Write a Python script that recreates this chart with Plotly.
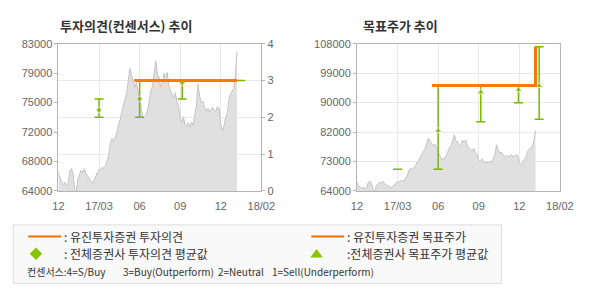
import plotly.graph_objects as go

# ---------------- data ----------------
x_ticks = [0, 1, 2, 3, 4, 5]
x_labels = ["12", "17/03", "06", "09", "12", "18/02"]

# daily-ish close price (sampled every 0.04 axis unit from 0 to 4.40)
price = [
    66500, 65600, 65200, 64800, 65100,
    64700, 65000, 66600, 66900, 66300,
    64200, 64000, 65600, 66200, 66700,
    66400, 66900, 66200, 65900, 65600,
    65200, 65000, 65400, 66000, 66400,
    66800, 66700, 67100, 66900, 67200,
    68000, 68700, 70200, 70800, 70400,
    71000, 71500, 72600, 73200, 74200,
    75200, 75900, 76600, 78000, 79800,
    79000, 78200, 77400, 78000, 76900,
    75800, 74200, 73500, 73600, 73800,
    74500, 76000, 77000, 77600, 79200,
    80800, 79000, 78700, 77400, 77800,
    79200, 78600, 79300, 77600, 76900,
    76400, 76000, 76700, 75500, 75000,
    73400, 72800, 73600, 72500, 72400,
    72800, 72200, 72900, 72500, 73800,
    75000, 77800, 76200, 75400, 75600,
    74800, 74300, 74700, 74200, 74500,
    74800, 74400, 74300, 74900, 74600,
    72600, 71800, 72400, 73500, 74000,
    75800, 76500, 76800, 77200, 79000,
    82000,
]
price_x = [round(i * 0.04, 2) for i in range(len(price))]

# Eugene investment opinion (consensus scale 1-4)
opinion_x = [1.87, 4.40]
opinion_y = [3, 3]

# all-broker consensus average / max / min
cons_x = [1.0, 2.0, 3.05, 4.49]
cons_avg = [2.2, 2.5, 2.95, 3.0]
cons_max = [2.5, 3.0, 3.0, 3.0]
cons_min = [2.0, 2.0, 2.5, 3.0]
cons_marker = [5, 5, 5, 0]

# Eugene target price
target_x = [1.85, 4.40, 4.40]
target_y = [95500, 95500, 107000]

# all-broker target price average / max / min
tp_x = [1.0, 2.0, 3.05, 3.98, 4.49]
tp_avg = [70500, 82000, 93500, 94200, 95400]
tp_max = [70500, 95500, 95500, 95500, 107100]
tp_min = [70500, 70500, 84700, 90400, 85400]
tp_marker = [0, 7, 7, 7, 7]

left_ticks = [64000, 67800, 71600, 75400, 79200, 83000]
left_labels = ["64000", "68000", "72000", "75000", "79000", "83000"]
right_ticks = [64000, 72800, 81600, 90400, 99200, 108000]
right_labels = ["64000", "73000", "82000", "90000", "99000", "108000"]

ORANGE = "#ff7800"
GREEN = "#7ab800"
GRID = "#e8e8e8"
AXIS = "#b4b4b4"
TXT = "#666666"
W, H = 590, 300

fig = go.Figure()

# ----- left chart -----
fig.add_trace(go.Scatter(x=price_x, y=price, mode="lines", fill="tozeroy",
                         fillcolor="#e0e0e0", line=dict(color="#c4c4c4", width=1),
                         xaxis="x", yaxis="y", hoverinfo="skip"))
fig.add_trace(go.Scatter(
    x=cons_x, y=cons_avg, mode="markers", xaxis="x", yaxis="y2",
    marker=dict(symbol="diamond", size=cons_marker, color=GREEN),
    error_y=dict(type="data", symmetric=False,
                 array=[a - b for a, b in zip(cons_max, cons_avg)],
                 arrayminus=[b - c for b, c in zip(cons_avg, cons_min)],
                 color=GREEN, thickness=1.5, width=4.5)))
fig.add_trace(go.Scatter(x=opinion_x, y=opinion_y, mode="lines", xaxis="x", yaxis="y2",
                         line=dict(color=ORANGE, width=3)))

# ----- right chart -----
fig.add_trace(go.Scatter(x=price_x, y=price, mode="lines", fill="tozeroy",
                         fillcolor="#e0e0e0", line=dict(color="#c4c4c4", width=1),
                         xaxis="x2", yaxis="y3", hoverinfo="skip"))
fig.add_trace(go.Scatter(
    x=tp_x, y=tp_avg, mode="markers", xaxis="x2", yaxis="y3",
    marker=dict(symbol="triangle-up", size=tp_marker, color=GREEN),
    error_y=dict(type="data", symmetric=False,
                 array=[a - b for a, b in zip(tp_max, tp_avg)],
                 arrayminus=[b - c for b, c in zip(tp_avg, tp_min)],
                 color=GREEN, thickness=1.5, width=4.5)))
fig.add_trace(go.Scatter(x=target_x, y=target_y, mode="lines", xaxis="x2", yaxis="y3",
                         line=dict(color=ORANGE, width=3)))

tickfont = dict(family="Liberation Sans, Arial, sans-serif", size=11, color=TXT)
L0, L1 = 54.3 / W, 264.3 / W
R0, R1 = 363.3 / W, 573.3 / W
Y0, Y1 = 1 - 192.7 / H, 1 - 39.3 / H

xcommon = dict(range=[0, 5], tickvals=x_ticks, ticktext=x_labels, showgrid=True,
               gridcolor=GRID, gridwidth=1, showline=True, linecolor=AXIS, linewidth=1,
               mirror=True, ticks="", tickfont=tickfont, zeroline=False, fixedrange=True,
               ticklabelstandoff=5)

fig.update_layout(
    width=W, height=H, margin=dict(l=0, r=0, t=0, b=0),
    paper_bgcolor="white", plot_bgcolor="white", showlegend=False,
    xaxis=dict(domain=[L0, L1], anchor="y", **xcommon),
    yaxis=dict(domain=[Y0, Y1], range=[64000, 83000], tickvals=left_ticks,
               ticktext=left_labels, showgrid=False, showline=True, linecolor=AXIS,
               linewidth=1, mirror=True, ticks="outside", ticklen=3, tickcolor=AXIS,
               tickfont=tickfont, zeroline=False, anchor="x"),
    yaxis2=dict(domain=[Y0, Y1], range=[0, 4], dtick=1, overlaying="y", side="right",
                showgrid=True, gridcolor=GRID, showline=False, ticks="outside",
                ticklen=3, tickcolor=AXIS, tickfont=tickfont, zeroline=False, anchor="x"),
    xaxis2=dict(domain=[R0, R1], anchor="y3", **xcommon),
    yaxis3=dict(domain=[Y0, Y1], range=[64000, 108000], tickvals=right_ticks,
                ticktext=right_labels, showgrid=True, gridcolor=GRID, showline=True,
                linecolor=AXIS, linewidth=1, mirror=True, ticks="outside", ticklen=3,
                tickcolor=AXIS, tickfont=tickfont, zeroline=False, anchor="x2"),
)

KR = "Noto Sans CJK KR, sans-serif"
ann = []
ann.append(dict(x=54 / W, y=1 - 20 / H, xref="paper", yref="paper", xanchor="left",
                yanchor="middle", showarrow=False,
                text="<b>투자의견(컨센서스) 추이</b>",
                font=dict(family=KR, size=13, color="#333333")))
ann.append(dict(x=367 / W, y=1 - 20 / H, xref="paper", yref="paper", xanchor="left",
                yanchor="middle", showarrow=False, text="<b>목표주가 추이</b>",
                font=dict(family=KR, size=13, color="#333333")))

def txt(x, y, s, size=12):
    ann.append(dict(x=x / W, y=1 - y / H, xref="paper", yref="paper", xanchor="left",
                    yanchor="middle", showarrow=False, text=s,
                    font=dict(family=KR, size=size, color="#333333")))

txt(58, 240, ": 유진투자증권 투자의견")
txt(58, 258, ": 전체증권사 투자의견 평균값")
txt(351, 240, ": 유진투자증권 목표주가")
txt(351, 258, ":전체증권사 목표주가 평균값")
txt(20, 277, "컨센서스:4=S/Buy", 10)
txt(119, 277, "3=Buy(Outperform)", 10)
txt(217, 277, "2=Neutral", 10)
txt(273, 277, "1=Sell(Underperform)", 10)

shapes = [
    dict(type="rect", xref="paper", yref="paper", x0=7.5 / W, x1=513 / W,
         y0=1 - 289 / H, y1=1 - 228 / H, fillcolor="#f9f9f9",
         line=dict(color="#dddddd", width=1), layer="below"),
    dict(type="line", xref="paper", yref="paper", x0=23 / W, x1=57 / W,
         y0=1 - 240 / H, y1=1 - 240 / H, line=dict(color="#f07000", width=2)),
    dict(type="line", xref="paper", yref="paper", x0=316 / W, x1=350 / W,
         y0=1 - 240 / H, y1=1 - 240 / H, line=dict(color="#f07000", width=2)),
    dict(type="path", xref="paper", yref="paper",
         path="M {a},{b} L {c},{d} L {a},{e} L {f},{d} Z".format(
             a=31 / W, b=1 - 251.5 / H, c=37.5 / W, d=1 - 258 / H, e=1 - 264.5 / H,
             f=24.5 / W),
         fillcolor="#86c400", line=dict(width=0)),
    dict(type="path", xref="paper", yref="paper",
         path="M {a},{b} L {c},{d} L {e},{d} Z".format(
             a=321.5 / W, b=1 - 253 / H, c=328 / W, d=1 - 262 / H, e=315 / W),
         fillcolor="#86c400", line=dict(width=0)),
]

fig.update_layout(annotations=ann, shapes=shapes)
fig.write_html("out.html")
